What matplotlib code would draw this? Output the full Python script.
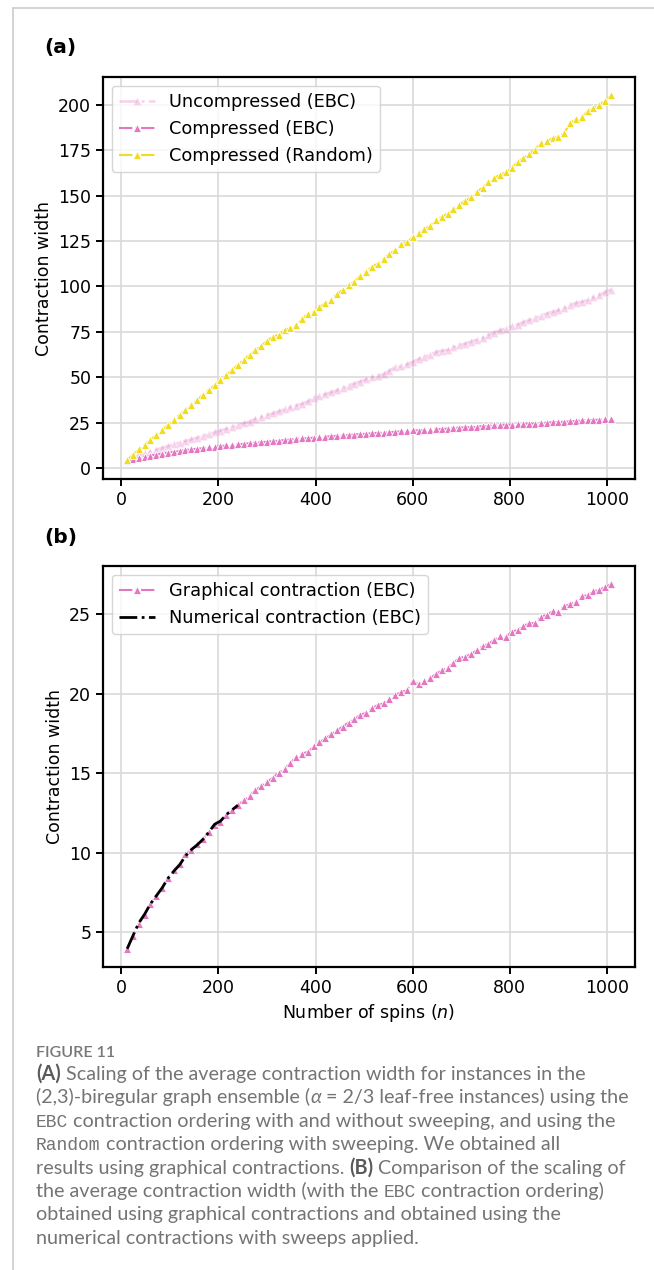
import matplotlib
matplotlib.use('Agg')
import matplotlib.pyplot as plt
from matplotlib.lines import Line2D

# ---- data ----
n_spins = list(range(12, 1009, 12))

uncompressed_ebc = [
    4.6, 5.8, 6.9, 8.0, 9.0, 10.0, 11.0, 12.0, 13.0, 14.0,
    14.8, 15.7, 16.6, 17.6, 18.5, 19.6, 20.6, 21.5, 22.6, 23.6,
    24.6, 25.5, 27.0, 28.0, 29.1, 30.0, 31.1, 32.2, 33.4, 34.3,
    35.3, 36.6, 38.3, 39.6, 40.6, 41.6, 42.7, 43.9, 45.3, 46.5,
    47.6, 48.8, 50.0, 50.8, 51.5, 53.6, 55.5, 56.0, 57.0, 58.5,
    60.0, 61.1, 62.3, 63.8, 64.5, 65.0, 66.4, 67.5, 68.5, 69.6,
    70.6, 71.6, 73.0, 74.6, 75.8, 76.8, 78.2, 79.0, 80.3, 81.4,
    82.6, 83.9, 85.0, 86.0, 86.8, 88.0, 89.6, 90.8, 91.5, 92.4,
    93.9, 95.2, 96.8, 98.2,
]

compressed_ebc = [
    3.97, 4.8, 5.55, 6.1, 6.8, 7.3, 7.8, 8.45, 8.9, 9.3,
    9.9, 10.2, 10.55, 10.85, 11.3, 11.75, 11.95, 12.4, 12.7, 13.0,
    13.3, 13.6, 13.95, 14.2, 14.45, 14.73, 15.05, 15.3, 15.65, 16.05,
    16.25, 16.35, 16.7, 16.95, 17.2, 17.45, 17.7, 17.95, 18.2, 18.4,
    18.7, 18.8, 19.1, 19.3, 19.4, 19.65, 19.95, 20.1, 20.25, 20.8,
    20.6, 20.8, 21.0, 21.25, 21.5, 21.65, 21.95, 22.25, 22.35, 22.5,
    22.75, 23.0, 23.15, 23.4, 23.65, 23.6, 23.9, 24.05, 24.25, 24.45,
    24.45, 24.85, 24.95, 25.2, 25.15, 25.5, 25.65, 25.8, 26.15, 26.2,
    26.45, 26.55, 26.7, 26.9,
]

compressed_random = [
    4.5, 7.2, 10.2, 12.8, 15.6, 18.4, 21.0, 23.8, 26.6, 29.3,
    32.1, 34.8, 37.4, 40.4, 43.1, 45.5, 48.6, 51.3, 54.0, 56.8,
    59.6, 62.3, 64.8, 67.3, 70.0, 72.3, 73.5, 75.8, 77.2, 78.6,
    82.0, 84.8, 85.9, 88.5, 90.9, 92.7, 95.8, 98.2, 100.8, 102.6,
    106.0, 108.2, 110.7, 112.6, 115.3, 118.0, 119.9, 123.1, 124.2, 127.2,
    129.2, 131.4, 133.4, 136.4, 138.4, 140.1, 142.5, 145.0, 147.3, 149.0,
    152.2, 154.4, 157.3, 159.9, 161.4, 162.9, 165.5, 168.4, 171.0, 172.9,
    175.4, 179.0, 179.9, 181.7, 182.3, 184.6, 190.0, 192.3, 193.2, 196.5,
    198.3, 200.2, 202.0, 205.3,
]

n_numerical = list(range(12, 241, 12))
numerical_ebc = [
    3.97, 4.8, 5.6, 6.15, 6.8, 7.3, 7.8, 8.4, 8.85, 9.25,
    9.8, 10.2, 10.5, 10.85, 11.3, 11.8, 12.0, 12.4, 12.7, 13.0,
]

PINK = '#e377c2'
YELLOW = '#f2dc1e'
GREY_TXT = '#747474'

plt.rcParams['font.family'] = 'DejaVu Sans'
plt.rcParams['font.size'] = 12.5

fig = plt.figure(figsize=(6.54, 12.70), dpi=100)
W, H = 654, 1270


def style_axes(ax):
    ax.grid(True, color='#d9d9d9', linewidth=1.2)
    ax.set_axisbelow(True)
    for sp in ax.spines.values():
        sp.set_linewidth(1.6)
    ax.tick_params(width=1.4, length=5, labelsize=12.5)


line_kw = dict(linestyle='-.', marker='^', markersize=5.5,
               markeredgecolor='white', markeredgewidth=0.6, linewidth=1.5)

# ---- panel (a) ----
ax_a = fig.add_axes([103 / W, 1 - 479 / H, 532 / W, 402 / H])
ax_a.plot(n_spins, uncompressed_ebc, color=PINK, alpha=0.3,
          label='Uncompressed (EBC)', **dict(line_kw, linewidth=2))
ax_a.plot(n_spins, compressed_ebc, color=PINK,
          label='Compressed (EBC)', **line_kw)
ax_a.plot(n_spins, compressed_random, color=YELLOW,
          label='Compressed (Random)', **line_kw)
ax_a.set_ylabel('Contraction width')
ax_a.set_xticks([0, 200, 400, 600, 800, 1000])
ax_a.set_yticks(range(0, 201, 25))
ax_a.legend(loc='upper left', fontsize=12.8)
style_axes(ax_a)

# ---- panel (b) ----
ax_b = fig.add_axes([103 / W, 1 - 967 / H, 532 / W, 401 / H])
ax_b.plot(n_spins, compressed_ebc, color=PINK,
          label='Graphical contraction (EBC)', **line_kw)
ax_b.plot(n_numerical, numerical_ebc, color='black', linestyle='-.',
          linewidth=2, label='Numerical contraction (EBC)')
ax_b.set_ylabel('Contraction width')
ax_b.set_xlabel('Number of spins ($n$)')
ax_b.set_xticks([0, 200, 400, 600, 800, 1000])
ax_b.set_yticks([5, 10, 15, 20, 25])
ax_b.legend(loc='upper left', fontsize=12.8)
style_axes(ax_b)

fig.text(44 / W, 1 - 48 / H, '(a)', fontsize=14.5, fontweight='bold', va='center')
fig.text(44 / W, 1 - 537 / H, '(b)', fontsize=14.5, fontweight='bold', va='center')

# page frame lines
fig.add_artist(Line2D([13 / W, 13 / W], [0, 1 - 8 / H], color='#cccccc', lw=1.2))
fig.add_artist(Line2D([13 / W, 1], [1 - 8 / H, 1 - 8 / H], color='#cccccc', lw=1.2))

# ---- caption ----
renderer = fig.canvas.get_renderer()
CAP = 14.2
base = dict(family='Lato', fontsize=CAP, color=GREY_TXT)
bold = dict(family='Lato', fontsize=CAP, color='#5a5a5a', fontweight='bold')
mono = dict(family='Liberation Mono', fontsize=CAP - 1.2, color=GREY_TXT)


def text_width(s, props):
    t = fig.text(0, 0, s, **props)
    w = t.get_window_extent(renderer).width
    t.remove()
    return w


def draw_line(y_px, segments, x_px=36):
    # y_px is the baseline position in pixels from the top
    x = x_px
    for s, props in segments:
        sw = text_width('x x', props) - text_width('xx', props)
        lead = len(s) - len(s.lstrip(' '))
        trail = len(s) - len(s.rstrip(' '))
        core = s.strip(' ')
        x += lead * sw
        t = fig.text(x / W, 1 - y_px / H, core, va='baseline', **props)
        x += t.get_window_extent(renderer).width + trail * sw


fig.text(36 / W, 1 - 1053 / H, 'FIGURE 11', family='Lato', fontsize=11.5,
         color='#777777', fontweight='semibold', va='center')

caption = [
    [('(A)', bold), (' Scaling of the average contraction width for instances in the', base)],
    [('(2,3)-biregular graph ensemble (', base), ('α', dict(base, style='italic')),
     (' = 2/3 leaf-free instances) using the', base)],
    [('EBC', mono), (' contraction ordering with and without sweeping, and using the', base)],
    [('Random', mono), (' contraction ordering with sweeping. We obtained all', base)],
    [('results using graphical contractions. ', base), ('(B)', bold),
     (' Comparison of the scaling of', base)],
    [('the average contraction width (with the ', base), ('EBC', mono),
     (' contraction ordering)', base)],
    [('obtained using graphical contractions and obtained using the', base)],
    [('numerical contractions with sweeps applied.', base)],
]
for i, segs in enumerate(caption):
    draw_line(1080 + i * 23.4, segs)

fig.savefig('out.png', dpi=100)
